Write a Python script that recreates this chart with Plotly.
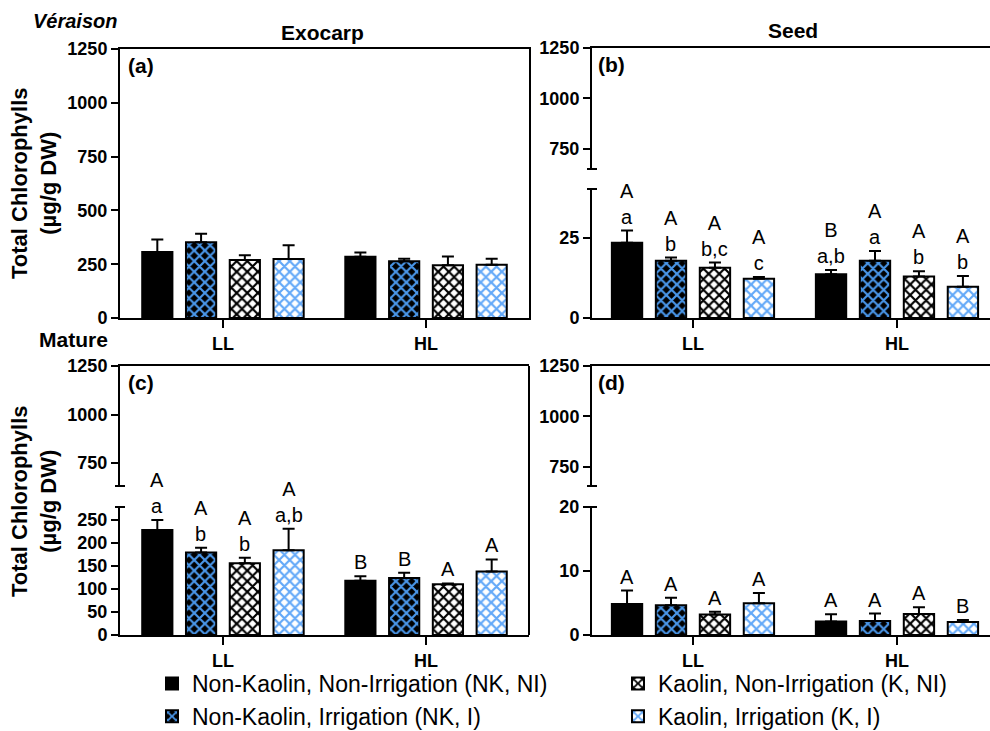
import plotly.graph_objects as go

# ---------------- data ----------------
categories = ["LL", "HL"]
series_names = [
    "Non-Kaolin, Non-Irrigation (NK, NI)",
    "Non-Kaolin, Irrigation (NK, I)",
    "Kaolin, Non-Irrigation (K, NI)",
    "Kaolin, Irrigation (K, I)",
]
legend_rank = [1, 3, 2, 4]

# (a) Veraison - Exocarp  (rows: series, cols: LL, HL)
ver_exo_mean = [[307, 285], [352, 264], [270, 245], [274, 248]]
ver_exo_err = [[58, 19], [39, 11], [22, 41], [64, 27]]

# (b) Veraison - Seed
ver_seed_mean = [[23.5, 13.7], [17.9, 17.9], [15.7, 13.0], [12.3, 9.8]]
ver_seed_err = [[3.8, 1.3], [1.0, 3.0], [1.6, 1.6], [0.5, 3.3]]
ver_seed_lbl = [["A<br>a", "B<br>a,b"], ["A<br>b", "A<br>a"],
                ["A<br>b,c", "A<br>b"], ["A<br>c", "A<br>b"]]

# (c) Mature - Exocarp
mat_exo_mean = [[228, 118], [179, 124], [156, 110], [184, 138]]
mat_exo_err = [[22, 9.5], [10.5, 11], [12, 2], [47, 26]]
mat_exo_lbl = [["A<br>a", "B"], ["A<br>b", "B"], ["A<br>b", "A"], ["A<br>a,b", "A"]]

# (d) Mature - Seed
mat_seed_mean = [[4.84, 2.1], [4.63, 2.2], [3.2, 3.3], [4.95, 2.05]]
mat_seed_err = [[2.1, 1.15], [1.2, 1.15], [0.45, 1.05], [1.6, 0.3]]
mat_seed_lbl = [["A", "A"], ["A", "A"], ["A", "A"], ["A", "B"]]

# ---------------- style ----------------
W, H = 990, 731
FONT = "Liberation Sans, Arial, sans-serif"
BLUE1 = "#4a97ea"
BLUE2 = "#62a8f8"
BARGAP = 0.138
GROUPGAP = 0.31


def pat(fg, bg):
    return dict(shape="x", fgcolor=fg, bgcolor=bg, size=7.5, solidity=0.5,
                fillmode="replace", fgopacity=1)


styles = [
    dict(color="black", pattern=None),
    dict(color="black", pattern=pat(BLUE1, "black")),
    dict(color="white", pattern=pat("black", "white")),
    dict(color="white", pattern=pat(BLUE2, "white")),
]


def X(px):
    return px / W


def Y(py):
    return 1 - py / H


nser = len(series_names)
slot = (1 - BARGAP) / nser
offsets = [-(1 - BARGAP) / 2 + slot * (k + 0.5) for k in range(nser)]

fig = go.Figure()


def add_bars(mean, err, xa, ya, labels=None, legend=False):
    for k in range(nser):
        st = styles[k]
        marker = dict(color=st["color"], line=dict(color="black", width=2))
        if st["pattern"]:
            marker["pattern"] = st["pattern"]
        fig.add_trace(go.Bar(
            x=categories, y=mean[k], name=series_names[k],
            marker=marker, xaxis=xa, yaxis=ya,
            showlegend=legend, legendrank=legend_rank[k],
            error_y=dict(type="data", array=err[k], arrayminus=[0] * len(err[k]),
                         symmetric=False, color="black", thickness=2, width=6),
        ))
        if labels:
            for i in range(len(categories)):
                fig.add_annotation(
                    x=i + offsets[k], y=mean[k][i] + err[k][i], xref=xa, yref=ya,
                    text=labels[k][i], showarrow=False, yanchor="bottom",
                    xanchor="center", align="center",
                    font=dict(size=20, color="black", family=FONT), yshift=1)


add_bars(ver_exo_mean, ver_exo_err, "x", "y", legend=True)
add_bars(ver_seed_mean, ver_seed_err, "x2", "y2", ver_seed_lbl)
add_bars(mat_exo_mean, mat_exo_err, "x4", "y4", mat_exo_lbl)
add_bars(mat_seed_mean, mat_seed_err, "x6", "y6", mat_seed_lbl)

# empty traces so that the upper (broken-axis) segments are drawn
for xa, ya in (("x3", "y3"), ("x5", "y5"), ("x7", "y7")):
    fig.add_trace(go.Scatter(x=[], y=[], xaxis=xa, yaxis=ya, showlegend=False,
                             hoverinfo="skip"))

tickfont = dict(size=18, color="black", family=FONT, weight="bold")
axis_common = dict(showline=True, linecolor="black", linewidth=2, showgrid=False,
                   zeroline=False, ticks="outside", ticklen=7, tickwidth=2,
                   tickcolor="black", tickfont=tickfont)

left_dom = [X(120), X(529)]
right_dom = [X(592), 1.0]
left_rng = [-0.507, 1.507]
right_rng = [-0.495, 1.456]


def xcat(dom, rng, anchor, **kw):
    d = dict(axis_common, domain=dom, range=rng, anchor=anchor, type="category",
             tickvals=categories, ticklen=8)
    d.update(kw)
    return d


def xtop(dom, rng, anchor):
    return dict(domain=dom, range=rng, anchor=anchor, side="top", showline=True,
                linecolor="black", linewidth=2, showticklabels=False, ticks="",
                showgrid=False, zeroline=False)


def yax(dom, rng, anchor, tickvals, **kw):
    d = dict(axis_common, domain=dom, range=rng, anchor=anchor, tickvals=tickvals)
    d.update(kw)
    return d


fig.update_layout(
    xaxis=xcat(left_dom, left_rng, "y", mirror=True),
    yaxis=yax([Y(318), Y(49)], [0, 1250], "x", [0, 250, 500, 750, 1000, 1250], mirror=True),
    xaxis2=xcat(right_dom, right_rng, "y2"),
    yaxis2=yax([Y(318), Y(189)], [0, 40.3], "x2", [0, 25]),
    xaxis3=xtop(right_dom, right_rng, "y3"),
    yaxis3=yax([Y(169), Y(48)], [650, 1250], "x3", [750, 1000, 1250]),
    xaxis4=xcat(left_dom, left_rng, "y4"),
    yaxis4=yax([Y(635), Y(507)], [0, 278], "x4", [0, 50, 100, 150, 200, 250]),
    xaxis5=xtop(left_dom, left_rng, "y5"),
    yaxis5=yax([Y(486), Y(366)], [632, 1250], "x5", [750, 1000, 1250]),
    xaxis6=xcat(right_dom, right_rng, "y6"),
    yaxis6=yax([Y(635), Y(507)], [0, 20], "x6", [0, 10, 20]),
    xaxis7=xtop(right_dom, right_rng, "y7"),
    yaxis7=yax([Y(486), Y(366)], [655, 1250], "x7", [750, 1000, 1250]),
)

fig.update_layout(
    width=W, height=H,
    margin=dict(l=0, r=0, t=0, b=0, autoexpand=False),
    paper_bgcolor="white", plot_bgcolor="white",
    font=dict(family=FONT, color="black"),
    barmode="group", bargap=BARGAP, bargroupgap=GROUPGAP,
    legend=dict(orientation="h", x=X(152), xanchor="left", y=Y(662), yanchor="top",
                entrywidth=421, entrywidthmode="pixels", bgcolor="rgba(0,0,0,0)",
                font=dict(size=23, family=FONT, color="black")),
)

# axis decorations: break caps and continuous right border of panel (c)
line = dict(color="black", width=2)
shapes = []
for py in (169, 189, 486, 507):
    shapes.append(dict(type="line", xref="paper", yref="paper",
                       x0=X(587), x1=X(597), y0=Y(py), y1=Y(py), line=line))
for py in (486, 507):
    shapes.append(dict(type="line", xref="paper", yref="paper",
                       x0=X(115), x1=X(125), y0=Y(py), y1=Y(py), line=line))
shapes.append(dict(type="line", xref="paper", yref="paper",
                   x0=X(529), x1=X(529), y0=Y(366), y1=Y(635), line=line))
fig.update_layout(shapes=shapes)


# texts
def txt(text, x, y, size, xanchor="center", angle=0, **fkw):
    fig.add_annotation(text=text, x=X(x), y=Y(y), xref="paper", yref="paper",
                       showarrow=False, xanchor=xanchor, yanchor="middle",
                       textangle=angle,
                       font=dict(size=size, family=FONT, color="black", **fkw))


txt("Véraison", 75, 21, 20, weight="bold", style="italic")
txt("Mature", 73, 340, 21, weight="bold")
txt("Exocarp", 322, 32, 21, weight="bold")
txt("Seed", 793, 30, 21, weight="bold")
txt("Total Chlorophylls<br>(µg/g DW)", 34, 184, 22, angle=-90, weight="bold")
txt("Total Chlorophylls<br>(µg/g DW)", 34, 502, 22, angle=-90, weight="bold")
txt("(a)", 126, 66, 21, xanchor="left", weight="bold")
txt("(b)", 596, 64, 21, xanchor="left", weight="bold")
txt("(c)", 126, 383, 21, xanchor="left", weight="bold")
txt("(d)", 596, 382, 21, xanchor="left", weight="bold")

fig.write_html("out.html")
